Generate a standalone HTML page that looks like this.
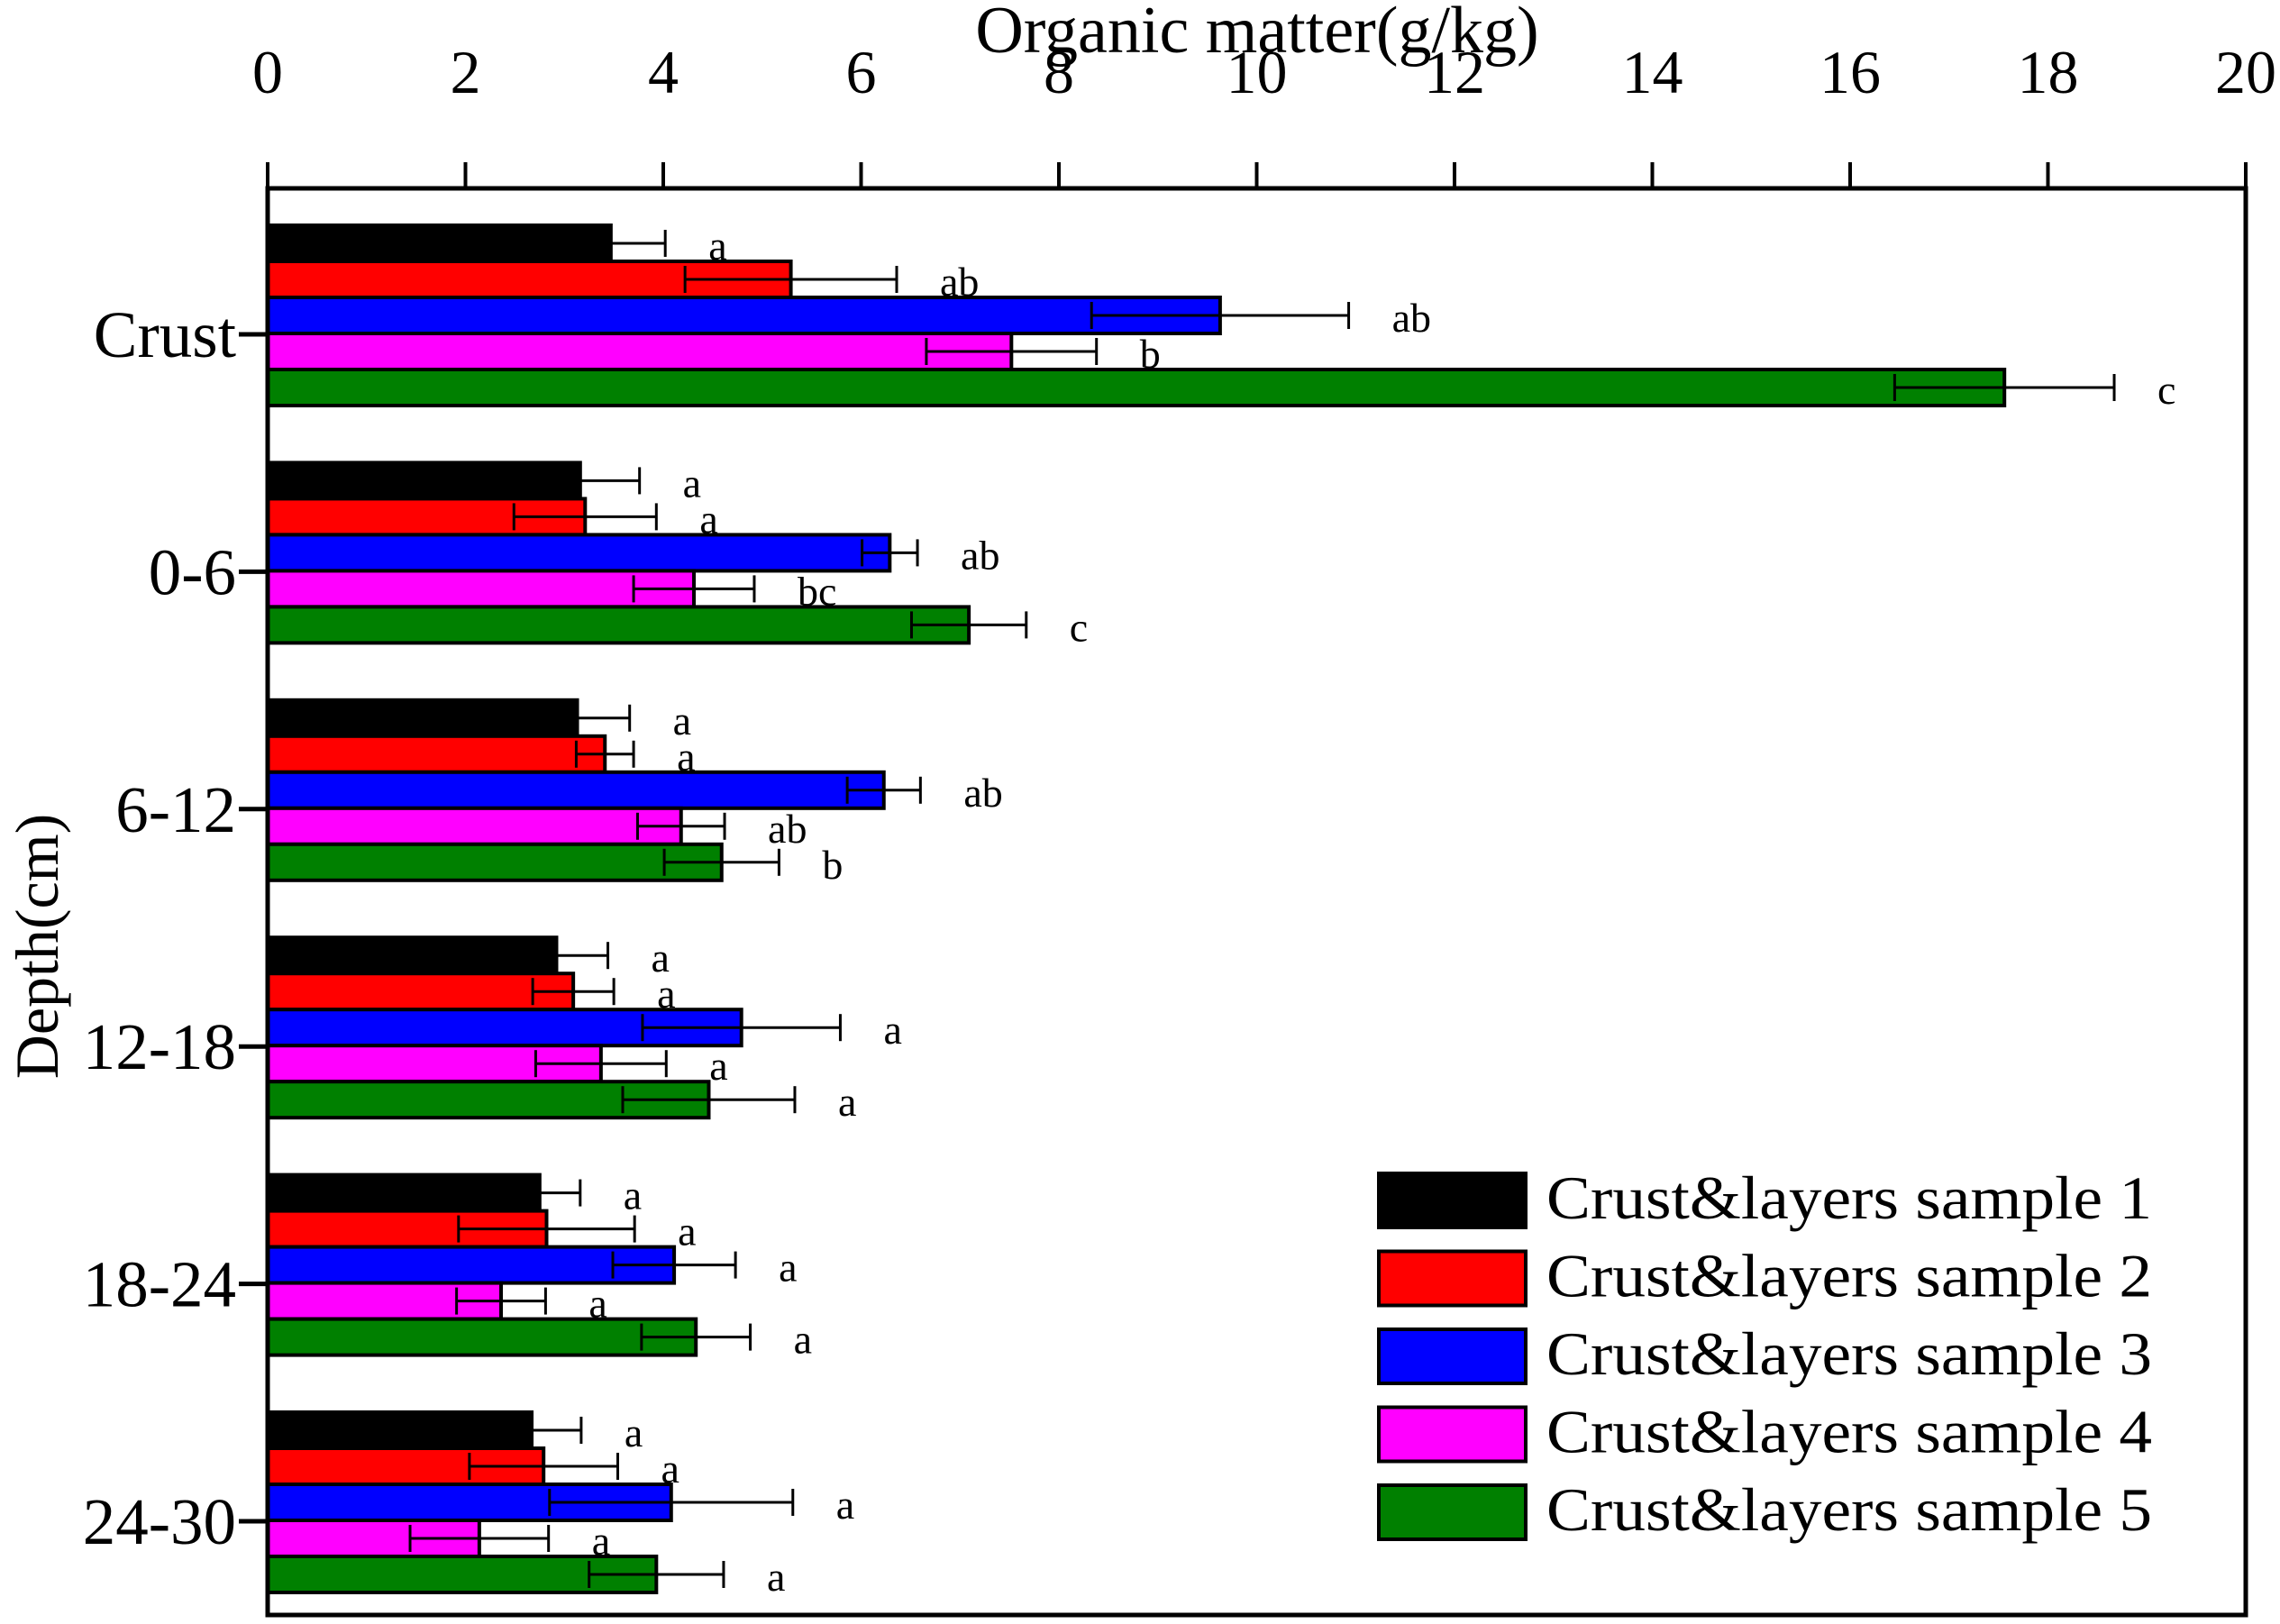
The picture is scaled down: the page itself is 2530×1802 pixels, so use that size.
<!DOCTYPE html>
<html><head><meta charset="utf-8"><style>
html,body{margin:0;padding:0;background:#fff;}
svg{display:block;font-family:"Liberation Serif",serif;}
</style></head><body>
<svg id="chart" width="2530" height="1802" viewBox="0 0 2530 1802" xmlns="http://www.w3.org/2000/svg"></svg>
<script>
const categories = ["Crust","0-6","6-12","12-18","18-24","24-30"];
const seriesNames = ["Crust&layers sample 1","Crust&layers sample 2","Crust&layers sample 3","Crust&layers sample 4","Crust&layers sample 5"];
const s1 = [3.47,3.16,3.13,2.92,2.75,2.67];
const s2 = [5.29,3.21,3.41,3.09,2.82,2.79];
const s3 = [9.63,6.29,6.23,4.79,4.11,4.08];
const s4 = [7.52,4.31,4.18,3.37,2.36,2.14];
const s5 = [17.56,7.09,4.59,4.46,4.33,3.93];
const e1 = [0.55,0.60,0.53,0.52,0.41,0.50];
const e2 = [1.07,0.72,0.29,0.41,0.89,0.75];
const e3 = [1.30,0.28,0.37,1.00,0.62,1.23];
const e4 = [0.86,0.61,0.44,0.66,0.45,0.70];
const e5 = [1.11,0.58,0.58,0.87,0.55,0.68];
const l1 = ["a","a","a","a","a","a"];
const l2 = ["ab","a","a","a","a","a"];
const l3 = ["ab","ab","ab","a","a","a"];
const l4 = ["b","bc","ab","a","a","a"];
const l5 = ["c","c","b","a","a","a"];
const xTicks = [0,2,4,6,8,10,12,14,16,18,20];

const colors = ["#000000","#ff0000","#0000ff","#ff00ff","#008000"];
const values=[s1,s2,s3,s4,s5], errs=[e1,e2,e3,e4,e5], letters=[l1,l2,l3,l4,l5];
const L=297,R=2492,T=209,B=1792;
const x=v=>L+(v-0)/(20-0)*(R-L);
const catY=i=>371+i*263.4;
const barOff=-21;
const barH=40;
const svg=document.getElementById('chart');
const NS="http://www.w3.org/2000/svg";
function mk(tag,attrs,parent){const e=document.createElementNS(NS,tag);for(const k in attrs)e.setAttribute(k,attrs[k]);(parent||svg).appendChild(e);return e;}

categories.forEach((c,i)=>{
  values.forEach((arr,s)=>{
    const y=catY(i)+barOff-2.5*barH+s*barH;
    const r=mk('rect',{x:x(0),y:y,width:x(arr[i])-x(0),height:barH,fill:colors[s],stroke:'#000','stroke-width':4});
    
    
  });
  values.forEach((arr,s)=>{
    const y=catY(i)+barOff-2.5*barH+s*barH+barH/2;
    const lo=arr[i]-errs[s][i],hi=arr[i]+errs[s][i];
    const g=mk('g',{stroke:'#000','stroke-width':3});
    
    
    mk('line',{x1:x(lo),x2:x(hi),y1:y,y2:y},g);
    mk('line',{x1:x(lo),x2:x(lo),y1:y-15,y2:y+15},g);
    mk('line',{x1:x(hi),x2:x(hi),y1:y-15,y2:y+15},g);
    const t=mk('text',{x:x(hi)+48,y:y+18,'font-size':46,'text-anchor':'start'});
    t.textContent=letters[s][i];
    
    
  });
  const tk=mk('line',{x1:265,x2:L,y1:catY(i),y2:catY(i),stroke:'#000','stroke-width':5});
  
  
  const lb=mk('text',{x:262,y:catY(i)+25,'font-size':73,'text-anchor':'end'});
  lb.textContent=c;
  
  
});

const fr=mk('rect',{x:L,y:T,width:R-L,height:B-T,fill:'none',stroke:'#000','stroke-width':5});



xTicks.forEach(v=>{
  const t=mk('line',{x1:x(v),x2:x(v),y1:180,y2:T,stroke:'#000','stroke-width':4});
  
  
  const l=mk('text',{x:x(v),y:103,'font-size':68,'text-anchor':'middle'});
  l.textContent=v;
  
  
});

const xt=mk('text',{x:1395,y:58,'font-size':74,'text-anchor':'middle'});
xt.textContent="Organic matter(g/kg)";



const yt=mk('text',{x:0,y:0,'font-size':68,'text-anchor':'middle',transform:'translate(64,1050) rotate(-90)'});
yt.textContent="Depth(cm)";



const lg=mk('g',{});


seriesNames.forEach((n,s)=>{
  const y=1302+s*86.5;
  const e=mk('g',{},lg);
  
  
  mk('rect',{x:1530,y:y,width:163,height:60,fill:colors[s],stroke:'#000','stroke-width':4},e);
  const t=mk('text',{x:1716,y:y+50,'font-size':68,textLength:672,lengthAdjust:'spacingAndGlyphs'},e);
  t.textContent=n;
});
</script>
</body></html>
